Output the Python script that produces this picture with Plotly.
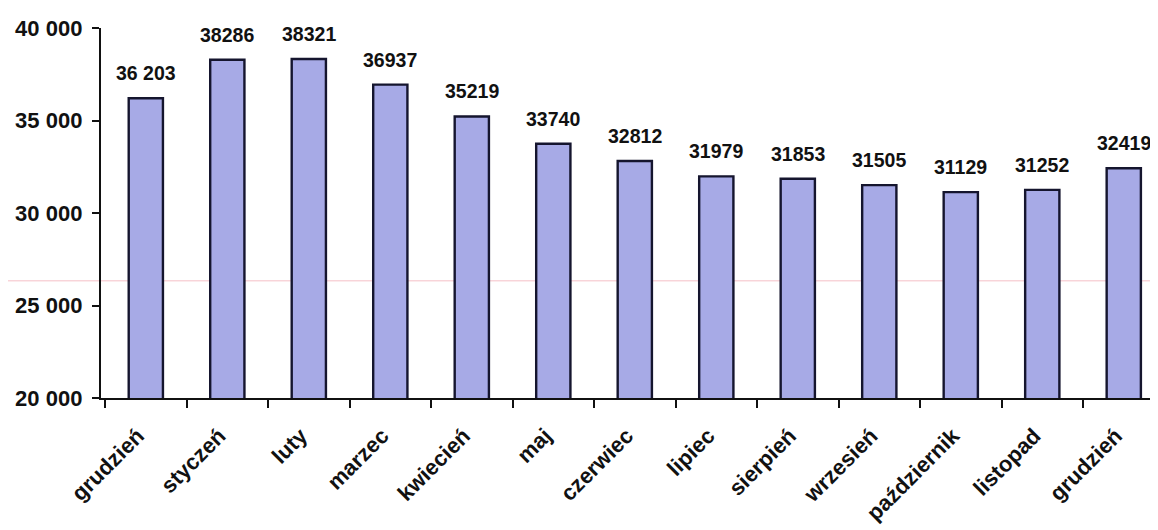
import plotly.graph_objects as go

months = ["grudzień", "styczeń", "luty", "marzec", "kwiecień", "maj", "czerwiec",
          "lipiec", "sierpień", "wrzesień", "październik", "listopad", "grudzień"]
values = [36203, 38286, 38321, 36937, 35219, 33740, 32812, 31979, 31853, 31505, 31129, 31252, 32419]
value_labels = ["36 203", "38286", "38321", "36937", "35219", "33740", "32812",
                "31979", "31853", "31505", "31129", "31252", "32419"]
y_ticks = [20000, 25000, 30000, 35000, 40000]
y_tick_labels = ["20 000", "25 000", "30 000", "35 000", "40 000"]
artifact_level = 26340

xs = list(range(len(months)))
FONT = "Arial, Liberation Sans, Helvetica, sans-serif"

fig = go.Figure()
fig.add_trace(go.Bar(
    x=xs, y=values, width=0.42,
    marker=dict(color="#a7aae6", line=dict(color="#15152e", width=2.4)),
    hoverinfo="skip",
))

for x, v, t in zip(xs, values, value_labels):
    fig.add_annotation(x=x, y=v, text=t, showarrow=False, yanchor="bottom",
                       yshift=12, font=dict(family=FONT, size=19.5, color="#111", weight="bold"))

fig.add_shape(type="line", xref="paper", yref="y", x0=-0.2, x1=1.0,
              y0=artifact_level, y1=artifact_level,
              line=dict(color="rgba(240,160,170,0.45)", width=1.5), layer="below")

fig.update_layout(
    width=1150, height=522,
    margin=dict(l=93, r=0, t=20, b=132),
    paper_bgcolor="white", plot_bgcolor="white",
    showlegend=False,
    xaxis=dict(
        range=[-0.55, 12.42], tickvals=xs, ticktext=months, tickangle=-45,
        ticks="", showline=True, linecolor="#111", linewidth=2.4,
        showgrid=False, zeroline=False,
        ticklabelstandoff=14, ticklabelshift=-8,
        tickfont=dict(family=FONT, size=22, color="#111", weight="bold"),
        minor=dict(ticks="outside", tick0=-0.5, dtick=1, ticklen=8, tickwidth=2.2,
                   tickcolor="#111", showgrid=False),
    ),
    yaxis=dict(
        range=[20000, 40000], tickvals=y_ticks, ticktext=y_tick_labels,
        ticks="outside", ticklen=7, tickwidth=2.2, tickcolor="#111",
        showline=True, linecolor="#111", linewidth=2.4,
        showgrid=False, zeroline=False, ticklabelstandoff=5,
        tickfont=dict(family=FONT, size=22, color="#111", weight="bold"),
    ),
)

fig.write_html("out.html")
